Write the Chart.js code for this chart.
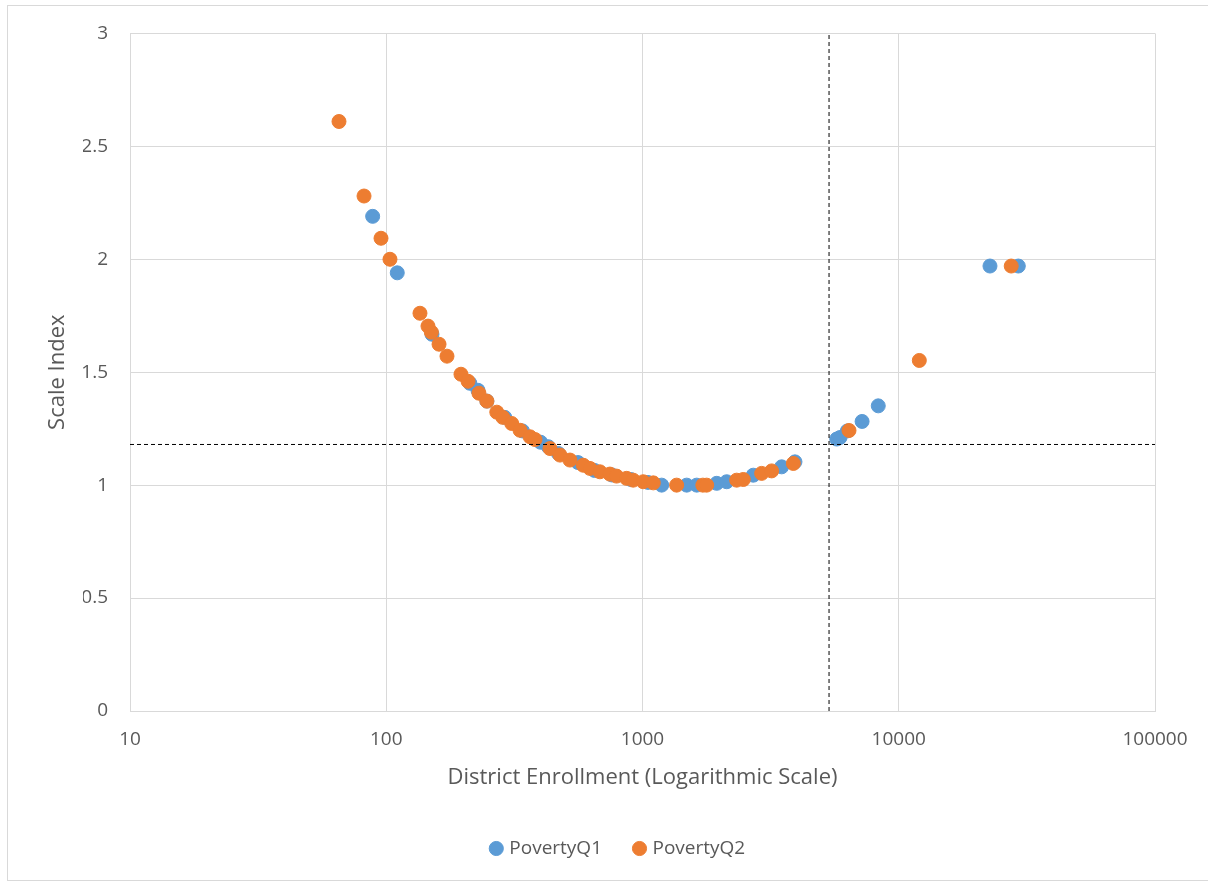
<!DOCTYPE html>
<html>
<head>
<meta charset="utf-8">
<script src="https://cdn.jsdelivr.net/npm/chart.js@4.4.0/dist/chart.umd.min.js"></script>
<style>
  body { margin: 0; background: #fff; }
  #frame { position: absolute; left: 7px; top: 5px; width: 1215px; height: 874px; border: 1px solid #d9d9d9; }
  #box { position: absolute; left: 0; top: 0; width: 1208px; height: 882px; }
</style>
</head>
<body>
<div id="frame"></div>
<div id="box"><canvas id="chart"></canvas></div>
<script>
// enrollment (log x) vs scale index
const q1Enroll = [88.5, 110.4, 150.8, 212, 228, 247, 290, 340, 400, 429, 470, 560, 650, 760, 900, 1050,
  1188, 1488, 1628, 1948, 2131, 2706, 3492, 3935, 5728, 5900, 6300, 7193, 8318, 22700, 29280];
const q1Index = [2.19, 1.94, 1.668, 1.451, 1.42, 1.372, 1.30, 1.24, 1.19, 1.17, 1.14, 1.10, 1.065, 1.045, 1.025, 1.012,
  1.0, 1.0, 1.0, 1.008, 1.015, 1.044, 1.081, 1.103, 1.204, 1.211, 1.24, 1.282, 1.351, 1.97, 1.97];

const q2Enroll = [65.4, 81.9, 95.4, 103.4, 135.4, 145.5, 150, 160.7, 172.6, 195.7, 208.5, 230, 247, 270, 285,
  308.7, 332.7, 364, 380.6, 435.5, 476.5, 521, 587.6, 623.7, 682, 746, 792, 867, 920, 1007, 1102,
  1359, 1720, 1780, 2331, 2474, 2917, 3192, 3879, 6396, 12030, 27470];
const q2Index = [2.61, 2.28, 2.093, 2.0, 1.761, 1.704, 1.677, 1.624, 1.571, 1.491, 1.46, 1.407, 1.372, 1.323, 1.30,
  1.273, 1.243, 1.214, 1.202, 1.162, 1.133, 1.111, 1.088, 1.074, 1.059, 1.049, 1.040, 1.030, 1.022, 1.015, 1.01,
  1.0, 1.0, 1.0, 1.022, 1.025, 1.052, 1.063, 1.096, 1.242, 1.552, 1.97];

// dashed reference lines
const cutEnroll = 5345;
const cutIndex = 1.18;

const xTicks = [10, 100, 1000, 10000, 100000];
const yTicks = [0, 0.5, 1, 1.5, 2, 2.5, 3];

function pairs(xs, ys) {
  return xs.map(function (x, i) { return { x: x, y: ys[i] }; });
}

const grey = '#595959';
const font = '"Open Sans", Lato, sans-serif';

new Chart(document.getElementById('chart'), {
  type: 'scatter',
  data: {
    datasets: [{
      label: 'PovertyQ1',
      data: pairs(q1Enroll, q1Index),
      backgroundColor: '#5b9bd5',
      borderColor: '#5b9bd5',
      pointRadius: 7,
      borderWidth: 1,
      order: 2
    }, {
      label: 'PovertyQ2',
      data: pairs(q2Enroll, q2Index),
      backgroundColor: '#ed7d31',
      borderColor: '#ed7d31',
      pointRadius: 7,
      borderWidth: 1,
      order: 1
    }, {
      label: 'cutX',
      data: [{ x: cutEnroll, y: yTicks[0] }, { x: cutEnroll, y: yTicks[yTicks.length - 1] }],
      showLine: true,
      borderColor: '#000',
      borderWidth: 1,
      borderDash: [4, 3],
      pointRadius: 0,
      order: 0
    }, {
      label: 'cutY',
      data: [{ x: xTicks[0], y: cutIndex }, { x: xTicks[xTicks.length - 1], y: cutIndex }],
      showLine: true,
      borderColor: '#000',
      borderWidth: 1,
      borderDash: [4, 3],
      pointRadius: 0,
      order: 0
    }]
  },
  options: {
    responsive: true,
    maintainAspectRatio: false,
    animation: false,
    layout: { padding: { left: 83, right: 53, top: 33, bottom: 14 } },
    plugins: {
      tooltip: { enabled: false },
      legend: {
        position: 'bottom',
        labels: {
          filter: function (item) { return item.text.indexOf('Poverty') === 0; },
          sort: function (a, b) { return a.datasetIndex - b.datasetIndex; },
          usePointStyle: true,
          pointStyle: 'circle',
          boxWidth: 7,
          boxHeight: 10,
          padding: 34,
          color: grey,
          font: { family: font, size: 19 }
        }
      }
    },
    scales: {
      x: {
        type: 'logarithmic',
        min: xTicks[0],
        max: xTicks[xTicks.length - 1],
        afterBuildTicks: function (scale) {
          scale.ticks = xTicks.map(function (v) { return { value: v }; });
        },
        afterFit: function (scale) { scale.height = 94; },
        grid: { color: '#d9d9d9', drawTicks: false },
        border: { color: '#d9d9d9' },
        ticks: {
          padding: 17,
          color: grey,
          font: { family: font, size: 19 },
          callback: function (v) { return String(v); }
        },
        title: {
          display: true,
          text: 'District Enrollment (Logarithmic Scale)',
          color: grey,
          font: { family: font, size: 22 },
          padding: { top: 0, bottom: 14 }
        }
      },
      y: {
        min: yTicks[0],
        max: yTicks[yTicks.length - 1],
        afterBuildTicks: function (scale) {
          scale.ticks = yTicks.map(function (v) { return { value: v }; });
        },
        afterFit: function (scale) { scale.width = 47; },
        grid: { color: '#d9d9d9', drawTicks: false },
        border: { color: '#d9d9d9' },
        ticks: {
          padding: 22,
          color: grey,
          font: { family: font, size: 19 },
          callback: function (v) { return String(v); }
        },
        title: {
          display: true,
          text: 'Scale Index',
          color: grey,
          font: { family: font, size: 22 },
          padding: { top: -38, bottom: 0 }
        }
      }
    }
  }
});
</script>
</body>
</html>
